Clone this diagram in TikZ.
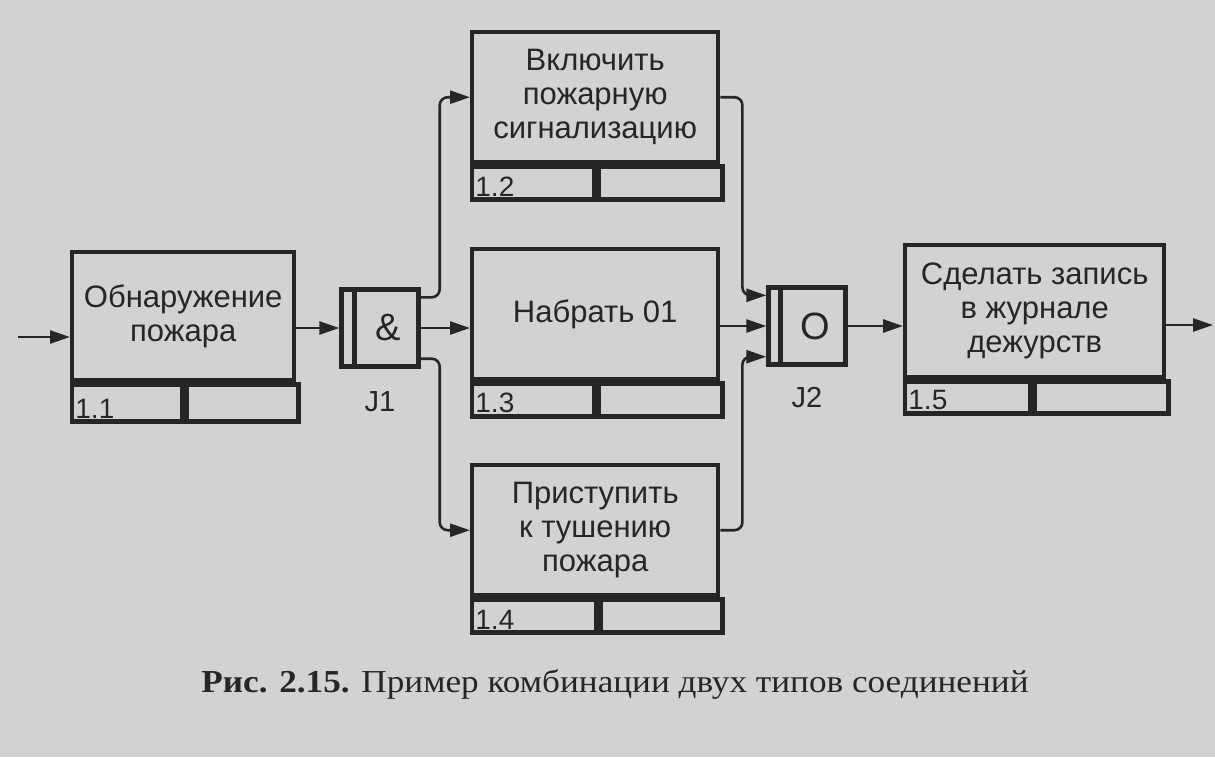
\documentclass[tikz,border=0pt]{standalone}
\usepackage{fontspec}
\setmainfont{Liberation Sans}
\newfontfamily\capfont[FakeStretch=1.1]{Liberation Serif}
\usepackage{xcolor}
\definecolor{gray3}{HTML}{262626}
\definecolor{paper}{HTML}{D2D2D2}
\usetikzlibrary{positioning, arrows.meta}

\tikzset{
  uob/.style={draw=gray3, line width=2.2pt, minimum height=65pt, inner sep=0pt,
    align=center, anchor=north west, font=\fontsize{15.5}{17}\selectfont, text=gray3},
  cell/.style={draw=gray3, line width=2.2pt, minimum height=16.5pt, inner sep=0pt, anchor=north west},
  num/.style={anchor=south west, inner xsep=2.5pt, inner ysep=2.6pt, font=\fontsize{14}{14}\selectfont, text=gray3},
  junc/.style={draw=gray3, line width=2.2pt, minimum size=38.5pt, inner sep=0pt},
  jtext/.style={inner sep=0pt, font=\fontsize{19}{19}\selectfont, text=gray3},
  jlab/.style={inner sep=0pt, font=\fontsize{14.5}{14.5}\selectfont, text=gray3},
  arr/.style={draw=gray3, line width=1.3pt, -{Triangle[length=10pt, width=6.5pt]}, rounded corners=4pt}
}

\begin{document}
\begin{tikzpicture}[x=0.5pt, y=-0.5pt]
    % paper
    \fill[paper] (0,0) rectangle (1215,757);
    \useasboundingbox (0,0) rectangle (1215,757);

    % Box 1.1
    \node[uob, minimum width=111pt, minimum height=64pt] (a11) at (70,250) {Обнаружение\\пожара};
    \node[cell, minimum width=55pt, minimum height=18.5pt] (c11) at (a11.south west) {};
    \node[cell, minimum width=56pt, minimum height=18.5pt] (d11) at (c11.north east) {};
    \node[num] (n11) at (c11.south west) {1.1};

    % Box 1.2
    \node[uob, minimum width=123pt] (a12) at (470,30) {Включить\\пожарную\\сигнализацию};
    \node[cell, minimum width=61pt] (c12) at (a12.south west) {};
    \node[cell, minimum width=62pt] (d12) at (c12.north east) {};
    \node[num] (n12) at (c12.south west) {1.2};

    % Box 1.3
    \node[uob, minimum width=123pt] (a13) at (470,247) {Набрать 01};
    \node[cell, minimum width=61pt] (c13) at (a13.south west) {};
    \node[cell, minimum width=62pt] (d13) at (c13.north east) {};
    \node[num] (n13) at (c13.south west) {1.3};

    % Box 1.4
    \node[uob, minimum width=123pt] (a14) at (470,463) {Приступить\\к тушению\\пожара};
    \node[cell, minimum width=62pt] (c14) at (a14.south west) {};
    \node[cell, minimum width=61pt] (d14) at (c14.north east) {};
    \node[num] (n14) at (c14.south west) {1.4};

    % Box 1.5
    \node[uob, minimum width=129.5pt, minimum height=66pt] (a15) at (903,243) {Сделать запись\\в журнале\\дежурств};
    \node[cell, minimum width=62.5pt, minimum height=16pt] (c15) at (a15.south west) {};
    \node[cell, minimum width=67pt, minimum height=16pt] (d15) at (c15.north east) {};
    \node[num] (n15) at (c15.south west) {1.5};

    % Junctions
    \node[junc] (j1) at (380,328) {};
    \draw[gray3, line width=2.2pt] ([xshift=7.5pt]j1.north west) -- ([xshift=7.5pt]j1.south west);
    \node[jtext] (j1t) at ([xshift=4pt]j1.center) {\&};
    \node[jlab, below=11pt of j1] (j1l) {J1};

    \node[junc] (j2) at (807,326) {};
    \draw[gray3, line width=2.2pt] ([xshift=7pt]j2.north west) -- ([xshift=7pt]j2.south west);
    \node[jtext] (j2t) at ([xshift=4pt]j2.center) {O};
    \node[jlab, below=10pt of j2] (j2l) {J2};

    % Connectors
    \coordinate (in) at (18,337);
    \coordinate (out) at (1213,325);
    \draw[arr] (in) -- (in -| a11.west);
    \draw[arr] (j1.west -| a11.east) -- (j1.west);
    \draw[arr] ([yshift=-5pt]j1.north east) -- ++(19,0) |- (a12.west);
    \draw[arr] (j1.east) -- (j1.east -| a13.west);
    \draw[arr] ([yshift=5pt]j1.south east) -- ++(19,0) |- (a14.west);
    \draw[arr] (a12.east) -- ++(22,0) |- ([yshift=-5pt]j2.north west);
    \draw[arr] (j2.west -| a13.east) -- (j2.west);
    \draw[arr] (a14.east) -- ++(22,0) |- ([yshift=5pt]j2.south west);
    \draw[arr] (j2.east) -- (j2.east -| a15.west);
    \draw[arr] (out -| a15.east) -- (out);

    % Caption
    \node[font=\capfont\fontsize{16}{18}\selectfont, text=gray3] (cap) at (615,684)
      {\textbf{Рис. 2.15.} Пример комбинации двух типов соединений};
\end{tikzpicture}
\end{document}
